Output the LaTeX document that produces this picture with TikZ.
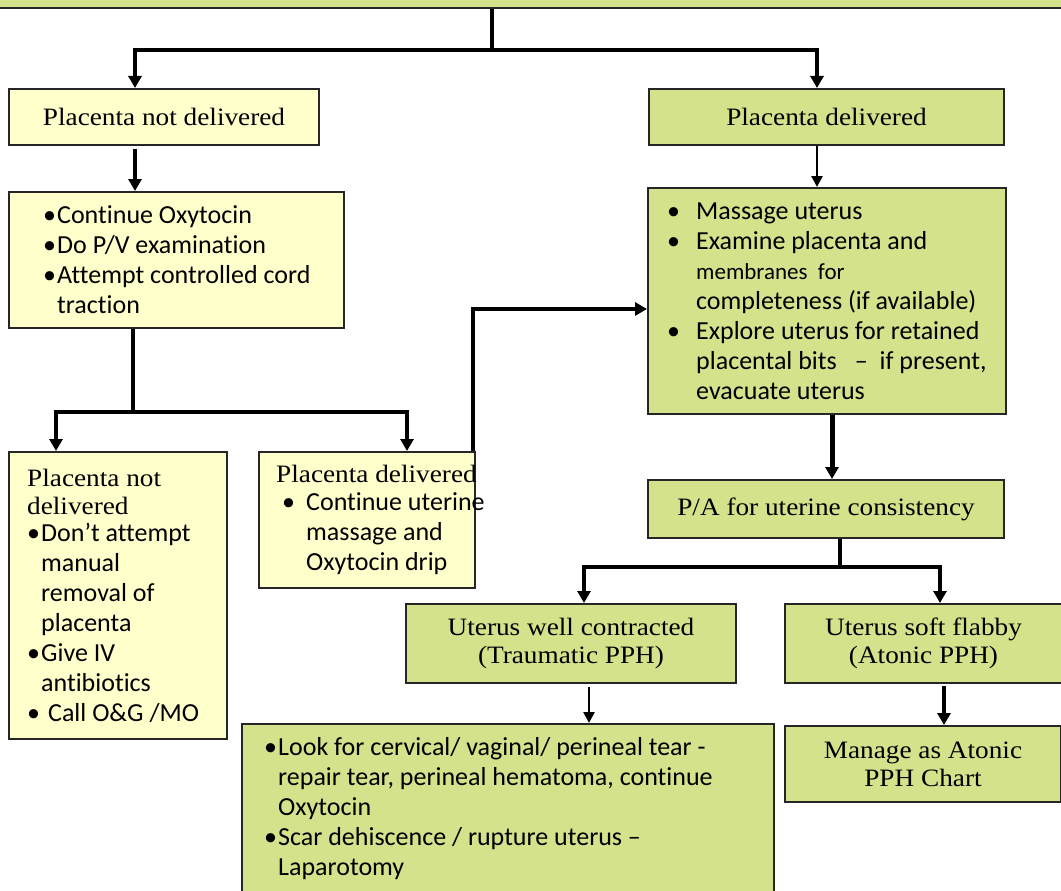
\documentclass[tikz,border=0pt]{standalone}
\usepackage{fontspec}
\newfontfamily\serifx{Liberation Serif}[FakeStretch=1.09]
\newfontfamily\sansx{Carlito}[Ligatures=NoCommon]
\usetikzlibrary{arrows.meta,calc}
\definecolor{yelbox}{RGB}{255,255,204}
\definecolor{grnbox}{RGB}{212,226,139}
\newcommand\bitem[1]{\makebox[#1][l]{•}}
\newcommand\ttlfont{\serifx\fontsize{25}{28}\selectfont}
\begin{document}
\begin{tikzpicture}[x=1pt,y=-1pt,
 box/.style={draw=black!85,line width=2pt,inner sep=0pt,anchor=north west},
 yel/.style={fill=yelbox}, grn/.style={fill=grnbox},
 ttl/.style={font=\ttlfont,align=center},
 lst/.style={font=\sansx\fontsize{26}{30}\selectfont,align=left,inner sep=0pt,anchor=west},
 conn/.style={line width=4pt},
 arrT/.style={line width=4pt,-{Triangle[width=13pt,length=12pt]}},
 arrt/.style={line width=2.5pt,-{Triangle[width=11pt,length=11pt]}}]
\useasboundingbox (0,0) rectangle (1061,891);
% boxes
\node[box,grn,minimum width=1080pt,minimum height=26pt] (top) at (-10,-19) {};
\node[box,yel,ttl,minimum width=310pt,minimum height=56pt] (A) at (8,88) {Placenta not delivered};
\node[box,grn,ttl,minimum width=355pt,minimum height=56pt] (B) at (648,88) {Placenta delivered};
\node[box,yel,minimum width=335pt,minimum height=136pt] (C) at (8,191) {};
\node[lst] (Ct) at ([xshift=35pt]C.west) {\bitem{14pt}Continue Oxytocin\\ \bitem{14pt}Do P/V examination\\ \bitem{14pt}Attempt controlled cord\\ \hspace*{14pt}traction};
\node[box,grn,minimum width=358pt,minimum height=226pt] (D) at (647,187) {};
\node[lst] (Dt) at ([xshift=20pt]D.west) {\bitem{29pt}Massage uterus\\ \bitem{29pt}Examine placenta and\\ \hspace*{29pt}{\fontsize{23}{30}\selectfont membranes\ \ for}\\ \hspace*{29pt}completeness (if available)\\ \bitem{29pt}Explore uterus for retained\\ \hspace*{29pt}placental bits\hspace{18pt}–\hspace{12pt}if present,\\ \hspace*{29pt}evacuate uterus};
\node[box,yel,minimum width=218pt,minimum height=287pt] (E) at (8,451) {};
\node[lst] (Et) at ([xshift=19pt]E.west) {{\ttlfont Placenta not}\\[-2pt] {\ttlfont delivered}\\[-3pt] \bitem{14pt}Don’t attempt\\ \hspace*{14pt}manual\\ \hspace*{14pt}removal of\\ \hspace*{14pt}placenta\\ \bitem{14pt}Give IV\\ \hspace*{14pt}antibiotics\\ \bitem{14pt}\hspace*{7pt}Call O\&G /MO};
\node[box,yel,minimum width=216pt,minimum height=136pt] (F) at (258,451) {};
\node[lst] (Ft) at ([xshift=18pt]F.west) {{\ttlfont Placenta delivered}\\[-2pt] \hspace*{6pt}\bitem{24pt}Continue uterine\\ \hspace*{30pt}massage and\\ \hspace*{30pt}Oxytocin drip};
\node[box,grn,ttl,minimum width=356pt,minimum height=58pt] (G) at (647,479) {P/A for uterine consistency};
\node[box,grn,ttl,minimum width=330pt,minimum height=79pt] (H) at (405,603) {Uterus well contracted\\(Traumatic PPH)};
\node[box,grn,ttl,minimum width=277pt,minimum height=79pt] (I) at (784,603) {Uterus soft flabby\\(Atonic PPH)};
\node[box,grn,minimum width=532pt,minimum height=200pt] (J) at (241,723) {};
\node[lst] (Jt) at ([xshift=23pt,yshift=15pt]J.west) {\bitem{14pt}Look for cervical/ vaginal/ perineal tear -\\ \hspace*{14pt}repair tear, perineal hematoma, continue\\ \hspace*{14pt}Oxytocin\\ \bitem{14pt}Scar dehiscence / rupture uterus –\\ \hspace*{14pt}Laparotomy};
\node[box,grn,ttl,minimum width=276pt,minimum height=76pt] (K) at (784,725) {Manage as Atonic\\PPH Chart};
% connectors
\coordinate (j1) at (492,50);
\coordinate (ax) at (135,0);
\coordinate (bx) at (817,0);
\draw[conn] (top.south -| j1) -- (j1);
\draw[arrT] (j1) -| (A.north -| ax);
\draw[arrT] (j1) -| (B.north -| bx);
\draw[arrT] ($(A.south -| ax)+(0,3)$) -- (C.north -| ax);
\draw[arrt] (B.south -| bx) -- (D.north -| bx);
\coordinate (j2) at (133,412);
\coordinate (ex) at (56,0);
\coordinate (fx) at (407,0);
\draw[conn] (C.south -| j2) -- (j2);
\draw[arrT] (j2) -| (E.north -| ex);
\draw[arrT] (j2) -| (F.north -| fx);
\coordinate (fy) at (473,309);
\draw[arrT] (F.north -| fy) |- (D.west |- fy);
\coordinate (gx) at (832,0);
\draw[arrT,line width=5pt] (D.south -| gx) -- (G.north -| gx);
\coordinate (j3) at (840,567);
\coordinate (hx) at (584,0);
\coordinate (ix) at (940,0);
\draw[conn] (G.south -| j3) -- (j3);
\draw[arrT,line width=3.5pt] (j3) -| (H.north -| hx);
\draw[arrT,line width=3.5pt] (j3) -| (I.north -| ix);
\coordinate (jx) at (589,0);
\draw[arrt] ($(H.south -| jx)+(0,3)$) -- (J.north -| jx);
\coordinate (kx) at (944,0);
\draw[arrT] ($(I.south -| kx)+(0,2)$) -- (K.north -| kx);
\end{tikzpicture}
\end{document}
